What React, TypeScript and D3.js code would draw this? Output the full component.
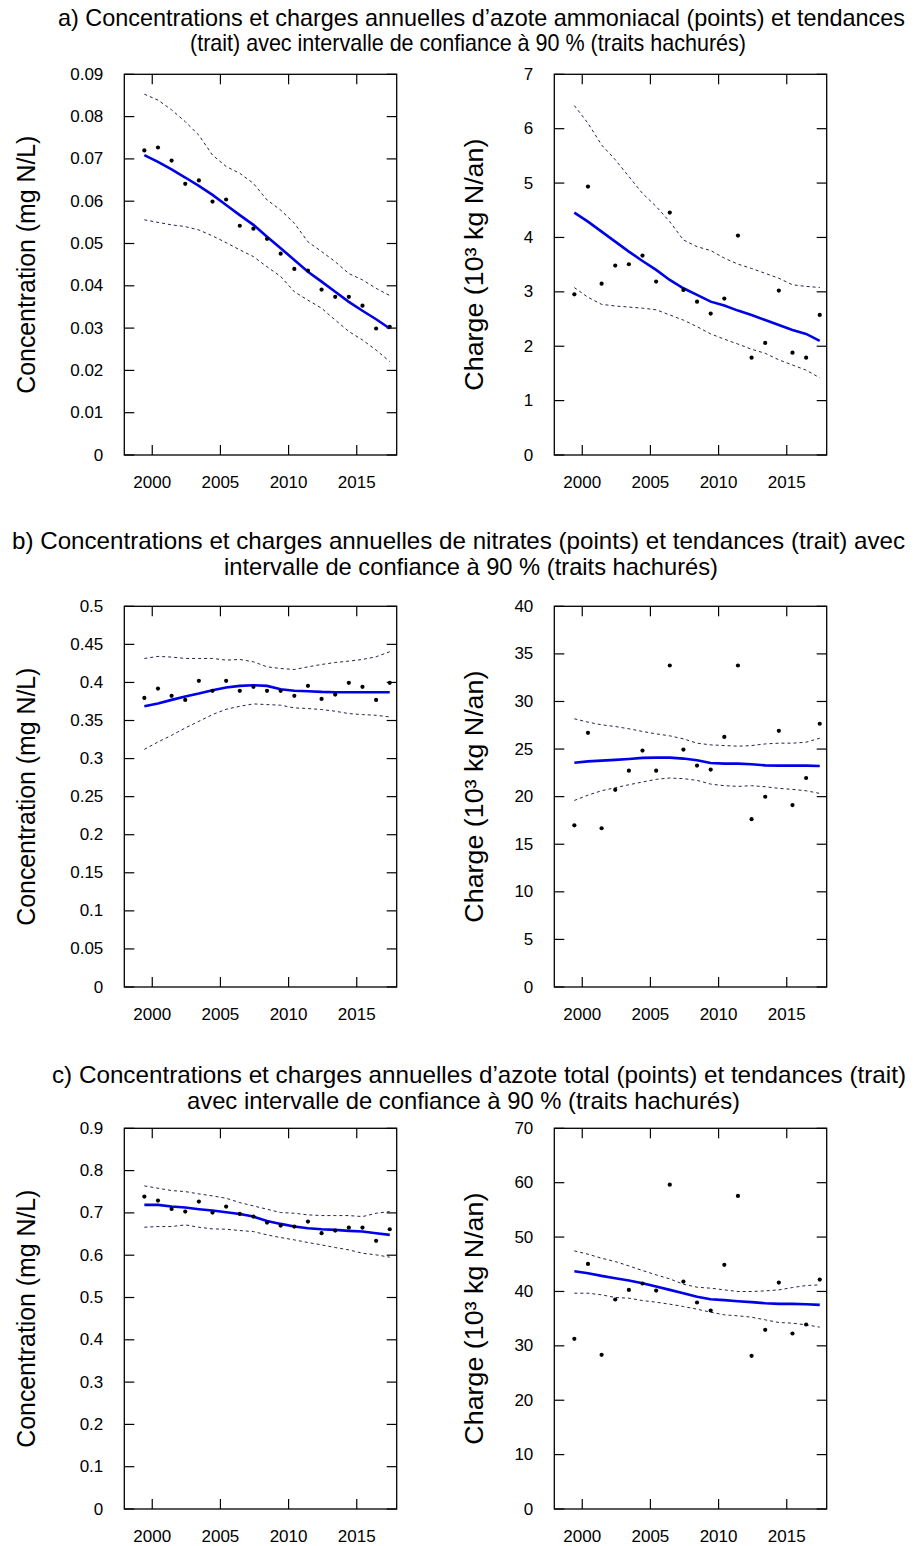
import React from 'react';
import * as d3 from 'd3';

const YEARS = [1999.42, 2000.42, 2001.42, 2002.42, 2003.42, 2004.42, 2005.42, 2006.42, 2007.42, 2008.42, 2009.42, 2010.42, 2011.42, 2012.42, 2013.42, 2014.42, 2015.42, 2016.42, 2017.42];
const X_TICKS = [2000, 2005, 2010, 2015];

// a) azote ammoniacal
const NH3_CONC = [0.0720, 0.0727, 0.0696, 0.0641, 0.0649, 0.0599, 0.0604, 0.0542, 0.0535, 0.0511, 0.0476, 0.0440, 0.0436, 0.0391, 0.0374, 0.0374, 0.0353, 0.0299, 0.0303];
const NH3_CONC_TREND = [0.0709, 0.0693, 0.0675, 0.0656, 0.0636, 0.0615, 0.0591, 0.0567, 0.0544, 0.0516, 0.0489, 0.0461, 0.0433, 0.0410, 0.0386, 0.0362, 0.0341, 0.0321, 0.0299];
const NH3_CONC_UP = [0.0853, 0.0839, 0.0816, 0.0788, 0.0756, 0.0709, 0.0682, 0.0666, 0.0642, 0.0603, 0.0579, 0.0548, 0.0504, 0.0481, 0.0457, 0.0429, 0.0414, 0.0394, 0.0377];
const NH3_CONC_LO = [0.0556, 0.0550, 0.0544, 0.0540, 0.0532, 0.0518, 0.0502, 0.0485, 0.0469, 0.0445, 0.0422, 0.0386, 0.0366, 0.0347, 0.0319, 0.0292, 0.0272, 0.0248, 0.0221];

const NH3_LOAD = [2.955, 4.936, 3.151, 3.483, 3.507, 3.666, 3.188, 4.457, 3.035, 2.820, 2.600, 2.876, 4.034, 1.790, 2.060, 3.023, 1.882, 1.790, 2.575];
const NH3_LOAD_TREND = [4.457, 4.29, 4.108, 3.924, 3.74, 3.568, 3.403, 3.219, 3.066, 2.943, 2.82, 2.747, 2.655, 2.575, 2.483, 2.391, 2.299, 2.226, 2.097];
const NH3_LOAD_UP = [6.425, 6.10, 5.70, 5.43, 5.12, 4.81, 4.57, 4.29, 3.955, 3.83, 3.76, 3.62, 3.51, 3.43, 3.34, 3.25, 3.13, 3.10, 3.08];
const NH3_LOAD_LO = [3.078, 2.90, 2.77, 2.74, 2.72, 2.70, 2.67, 2.575, 2.48, 2.36, 2.226, 2.13, 2.04, 1.944, 1.87, 1.75, 1.655, 1.56, 1.42];

// b) nitrates
const NO3_CONC = [0.3797, 0.392, 0.3824, 0.3771, 0.4021, 0.389, 0.4021, 0.389, 0.3942, 0.389, 0.389, 0.3824, 0.3955, 0.3784, 0.3841, 0.3995, 0.3942, 0.3771, 0.3995];
const NO3_CONC_TREND = [0.3687, 0.3723, 0.3771, 0.3815, 0.3854, 0.3898, 0.3933, 0.3955, 0.3964, 0.3955, 0.3911, 0.389, 0.3885, 0.3876, 0.3872, 0.3872, 0.3872, 0.3872, 0.3872];
const NO3_CONC_UP = [0.4315, 0.4342, 0.4333, 0.4315, 0.4315, 0.4315, 0.4293, 0.4302, 0.4271, 0.4205, 0.4183, 0.4170, 0.4205, 0.4236, 0.4262, 0.428, 0.4302, 0.4337, 0.4403];
const NO3_CONC_LO = [0.3121, 0.3218, 0.3306, 0.3402, 0.349, 0.3578, 0.3648, 0.3687, 0.3718, 0.3709, 0.3701, 0.3666, 0.3657, 0.3644, 0.3622, 0.3591, 0.3578, 0.3569, 0.3547];

const NO3_LOAD = [16.99, 26.71, 16.68, 20.72, 22.73, 24.84, 22.73, 33.78, 24.95, 23.26, 22.84, 26.28, 33.78, 17.63, 19.99, 26.92, 19.11, 21.96, 27.66];
const NO3_LOAD_TREND = [23.57, 23.71, 23.79, 23.86, 23.96, 24.07, 24.1, 24.1, 24.0, 23.82, 23.54, 23.47, 23.47, 23.4, 23.29, 23.26, 23.26, 23.26, 23.22];
const NO3_LOAD_UP = [28.18, 27.83, 27.55, 27.37, 27.13, 26.85, 26.6, 26.39, 26.07, 25.62, 25.44, 25.37, 25.3, 25.37, 25.54, 25.62, 25.62, 25.72, 26.14];
const NO3_LOAD_LO = [19.6, 20.16, 20.62, 20.94, 21.25, 21.54, 21.82, 21.96, 21.89, 21.71, 21.32, 21.15, 21.08, 21.15, 21.04, 20.87, 20.76, 20.62, 20.34];

// c) azote total
const TN_CONC = [0.7386, 0.7291, 0.7094, 0.7031, 0.7268, 0.7008, 0.715, 0.6976, 0.6913, 0.6772, 0.6701, 0.6677, 0.6795, 0.652, 0.6583, 0.6654, 0.6654, 0.6339, 0.6614];
const TN_CONC_TREND = [0.7189, 0.7189, 0.715, 0.7126, 0.7087, 0.7055, 0.7016, 0.6976, 0.6913, 0.6811, 0.674, 0.6677, 0.6638, 0.6614, 0.6598, 0.6575, 0.6559, 0.652, 0.648];
const TN_CONC_UP = [0.7638, 0.7583, 0.7528, 0.7504, 0.7449, 0.7402, 0.7346, 0.7244, 0.7165, 0.7087, 0.7008, 0.6992, 0.6953, 0.6937, 0.6937, 0.6937, 0.6913, 0.6992, 0.7031];
const TN_CONC_LO = [0.6661, 0.6677, 0.6677, 0.6717, 0.6661, 0.6622, 0.6614, 0.6583, 0.6559, 0.648, 0.6417, 0.6362, 0.6299, 0.6244, 0.6181, 0.6126, 0.6047, 0.6008, 0.5953];

const TN_LOAD = [31.29, 45.07, 28.35, 38.52, 40.29, 41.46, 40.17, 59.64, 41.82, 37.97, 36.5, 44.89, 57.56, 28.17, 32.95, 41.64, 32.27, 33.92, 42.19];
const TN_LOAD_TREND = [43.72, 43.36, 42.87, 42.44, 42.01, 41.52, 40.91, 40.29, 39.68, 39.01, 38.58, 38.4, 38.21, 38.03, 37.84, 37.72, 37.72, 37.66, 37.54];
const TN_LOAD_UP = [47.46, 46.85, 46.11, 45.5, 44.7, 43.85, 43.05, 42.31, 41.33, 40.78, 40.6, 40.29, 39.99, 39.99, 40.11, 40.29, 40.72, 41.09, 41.21];
const TN_LOAD_LO = [39.68, 39.68, 39.38, 38.89, 38.76, 38.33, 38.03, 37.66, 37.23, 36.74, 36.19, 35.7, 35.52, 35.27, 34.78, 34.29, 34.17, 33.86, 33.44];

// tick labels
const TICKS_NH3_CONC = ['0', '0.01', '0.02', '0.03', '0.04', '0.05', '0.06', '0.07', '0.08', '0.09'];
const TICKS_NH3_LOAD = ['0', '1', '2', '3', '4', '5', '6', '7'];
const TICKS_NO3_CONC = ['0', '0.05', '0.1', '0.15', '0.2', '0.25', '0.3', '0.35', '0.4', '0.45', '0.5'];
const TICKS_NO3_LOAD = ['0', '5', '10', '15', '20', '25', '30', '35', '40'];
const TICKS_TN_CONC = ['0', '0.1', '0.2', '0.3', '0.4', '0.5', '0.6', '0.7', '0.8', '0.9'];
const TICKS_TN_LOAD = ['0', '10', '20', '30', '40', '50', '60', '70'];

const TITLES = [
  ['a) Concentrations et charges annuelles d’azote ammoniacal (points) et tendances', '(trait) avec intervalle de confiance à 90 % (traits hachurés)'],
  ['b) Concentrations et charges annuelles de nitrates (points) et tendances (trait) avec', 'intervalle de confiance à 90 % (traits hachurés)'],
  ['c) Concentrations et charges annuelles d’azote total (points) et tendances (trait)', 'avec intervalle de confiance à 90 % (traits hachurés)'],
];

const LABEL_CONC = 'Concentration (mg N/L)';
const LABEL_LOAD = 'Charge (10³ kg N/an)';

const FONT = '"Liberation Sans", Arial, Helvetica, sans-serif';
const W = 917;
const H = 1546;
const BOX_W = 272.4;
const BOX_H = 380.7;
const LEFT_X = 124.3;
const RIGHT_X = 554.3;
const ROW_TOPS = [74.3, 606.3, 1128.3];
// title lines: [x start, x end, baseline]
const TITLE_LINES = [
  [[58, 905, 26], [190, 746, 51]],
  [[12, 905, 549], [224, 718, 575]],
  [[52, 906, 1083], [187, 740, 1109]],
];
const TITLE_FS = 23.4;
const X_DOMAIN: [number, number] = [1997.95, 2017.93];

type PanelProps = {
  x0: number; y0: number; ticks: string[]; label: string; labelX: number; labelLen: number;
  pts: number[]; trend: number[]; up: number[]; lo: number[];
};

function Panel({ x0, y0, ticks, label, labelX, labelLen, pts, trend, up, lo }: PanelProps) {
  const yMax = +ticks[ticks.length - 1];
  const x = d3.scaleLinear().domain(X_DOMAIN).range([x0, x0 + BOX_W]);
  const y = d3.scaleLinear().domain([0, yMax]).range([y0 + BOX_H, y0]);
  const line = (vals: number[]) =>
    d3.line<number>().x((_, i) => x(YEARS[i])).y((v) => y(v))(vals) || '';
  const tl = 10;
  const dashColor = '#22224a';
  return (
    <g>
      {ticks.map((t) => {
        const yy = y(+t);
        return (
          <g key={'y' + t}>
            <line x1={x0} x2={x0 + tl} y1={yy} y2={yy} stroke="#000" strokeWidth={1.2} />
            <line x1={x0 + BOX_W - tl} x2={x0 + BOX_W} y1={yy} y2={yy} stroke="#000" strokeWidth={1.2} />
            <text x={x0 - 21} y={yy} textAnchor="end" dominantBaseline="central" fontSize={17} fontFamily={FONT} fill="#000">{t}</text>
          </g>
        );
      })}
      {X_TICKS.map((t) => {
        const xx = x(t);
        return (
          <g key={'x' + t}>
            <line x1={xx} x2={xx} y1={y0} y2={y0 + tl} stroke="#000" strokeWidth={1.2} />
            <line x1={xx} x2={xx} y1={y0 + BOX_H - tl} y2={y0 + BOX_H} stroke="#000" strokeWidth={1.2} />
            <text x={xx} y={y0 + BOX_H + 33} textAnchor="middle" fontSize={17} fontFamily={FONT} fill="#000">{t}</text>
          </g>
        );
      })}
      <path d={line(up)} fill="none" stroke={dashColor} strokeWidth={1} strokeDasharray="3,3" />
      <path d={line(lo)} fill="none" stroke={dashColor} strokeWidth={1} strokeDasharray="3,3" />
      <path d={line(trend)} fill="none" stroke="#0000e6" strokeWidth={2.6} />
      {pts.map((v, i) => (
        <circle key={i} cx={x(YEARS[i])} cy={y(v)} r={2.1} fill="#000" />
      ))}
      <rect x={x0} y={y0} width={BOX_W} height={BOX_H} fill="none" stroke="#000" strokeWidth={1.3} />
      <text
        transform={`translate(${labelX},${y0 + BOX_H / 2}) rotate(-90)`}
        textAnchor="middle" dominantBaseline="central" fontSize={25} fontFamily={FONT} fill="#000"
        textLength={labelLen} lengthAdjust="spacingAndGlyphs"
      >{label}</text>
    </g>
  );
}

export default function App() {
  const rows = [
    { l: [TICKS_NH3_CONC, NH3_CONC, NH3_CONC_TREND, NH3_CONC_UP, NH3_CONC_LO], r: [TICKS_NH3_LOAD, NH3_LOAD, NH3_LOAD_TREND, NH3_LOAD_UP, NH3_LOAD_LO] },
    { l: [TICKS_NO3_CONC, NO3_CONC, NO3_CONC_TREND, NO3_CONC_UP, NO3_CONC_LO], r: [TICKS_NO3_LOAD, NO3_LOAD, NO3_LOAD_TREND, NO3_LOAD_UP, NO3_LOAD_LO] },
    { l: [TICKS_TN_CONC, TN_CONC, TN_CONC_TREND, TN_CONC_UP, TN_CONC_LO], r: [TICKS_TN_LOAD, TN_LOAD, TN_LOAD_TREND, TN_LOAD_UP, TN_LOAD_LO] },
  ];
  return (
    <svg width={W} height={H} style={{ position: 'absolute', left: 0, top: 0, background: '#fff' }}>
      <rect x={0} y={0} width={W} height={H} fill="#fff" />
      {TITLES.map((lines, ri) => (
        <g key={'t' + ri}>
          {lines.map((s, li) => {
            const [xa, xb, by] = TITLE_LINES[ri][li];
            return (
              <text key={li} x={xa} y={by} fontSize={TITLE_FS} fontFamily={FONT} fill="#000"
                textLength={xb - xa} lengthAdjust="spacingAndGlyphs">{s}</text>
            );
          })}
        </g>
      ))}
      {rows.map((row, ri) => (
        <g key={'r' + ri}>
          <Panel x0={LEFT_X} y0={ROW_TOPS[ri]} ticks={row.l[0] as string[]} label={LABEL_CONC} labelX={26} labelLen={258}
            pts={row.l[1] as number[]} trend={row.l[2] as number[]} up={row.l[3] as number[]} lo={row.l[4] as number[]} />
          <Panel x0={RIGHT_X} y0={ROW_TOPS[ri]} ticks={row.r[0] as string[]} label={LABEL_LOAD} labelX={474} labelLen={252}
            pts={row.r[1] as number[]} trend={row.r[2] as number[]} up={row.r[3] as number[]} lo={row.r[4] as number[]} />
        </g>
      ))}
    </svg>
  );
}
